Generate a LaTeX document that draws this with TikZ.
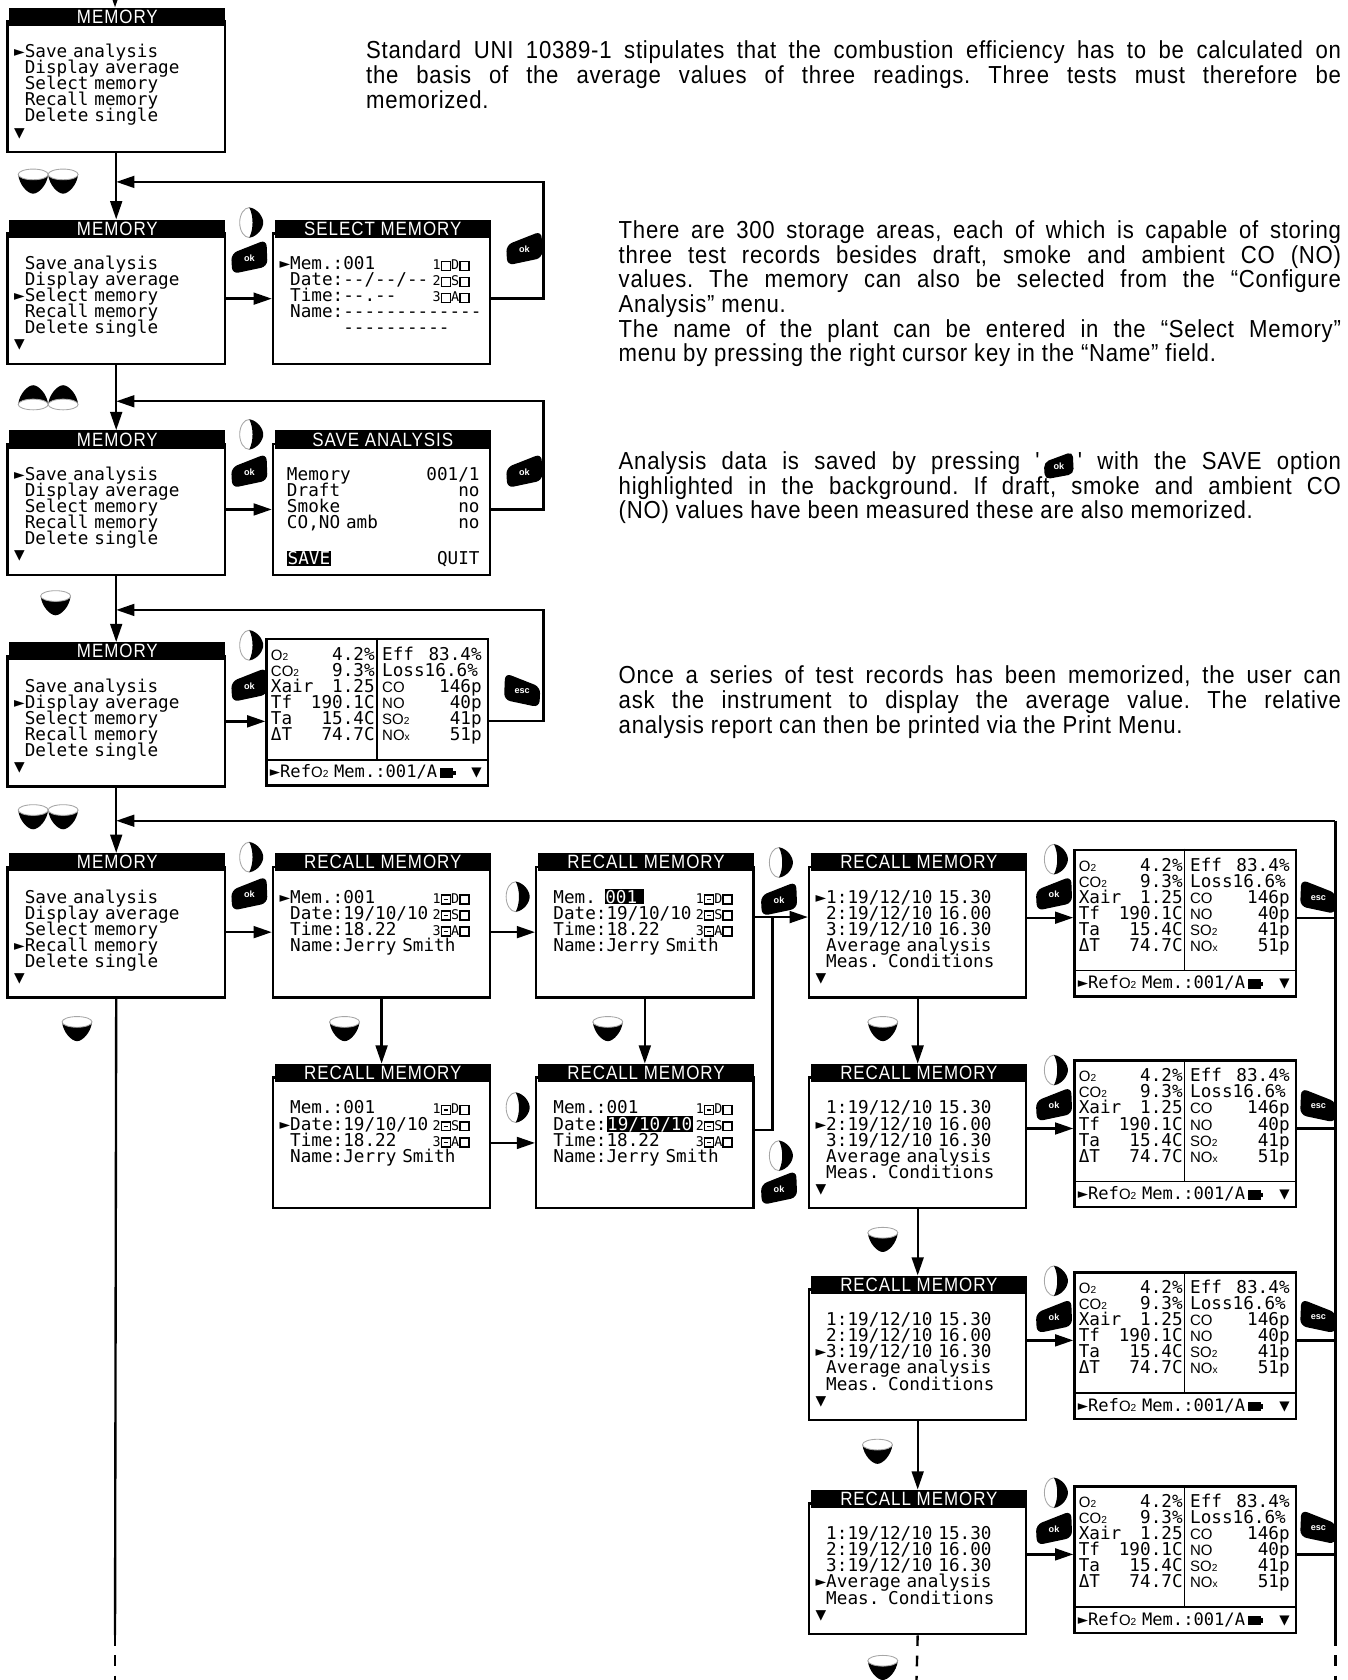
\documentclass[tikz,border=0pt]{standalone}
\usepackage{fontspec}
\setmainfont{Liberation Sans}
\setmonofont{DejaVu Sans Mono}
\newfontfamily\titfam[FakeStretch=0.88,LetterSpace=5]{Liberation Sans}
\newfontfamily\parfam[FakeStretch=0.9,LetterSpace=3]{Liberation Sans}
\usetikzlibrary{arrows.meta}

% fonts
\newcommand{\lcd}{\ttfamily\fontsize{16.5}{15}\selectfont\lineskiplimit=-20pt}
\newcommand{\titf}{\titfam\fontsize{18}{16}\selectfont}
\newcommand{\parf}{\parfam\fontsize{23}{23}\selectfont\lineskiplimit=-20pt\frenchspacing}
\newcommand{\keyf}{\rmfamily\bfseries\fontsize{8.5}{8.5}\selectfont}
\newcommand{\flagf}{\ttfamily\fontsize{12.5}{15}\selectfont\lineskiplimit=-20pt}
\newcommand{\statf}{\ttfamily\fontsize{16}{15}\selectfont}

% screen glyphs
\newcommand{\cursel}{\makebox[0.602em][l]{►}}
\newcommand{\curoff}{\hspace*{0.602em}}
\newcommand{\inv}[1]{{\setlength{\fboxsep}{0.6pt}\colorbox{black}{\textcolor{white}{#1}}}}
\newcommand{\bxe}{{\setlength{\fboxsep}{0pt}\setlength{\fboxrule}{1.4pt}\fbox{\rule{0pt}{7pt}\rule{7pt}{0pt}}}}
\newcommand{\bxd}{{\setlength{\fboxsep}{0pt}\setlength{\fboxrule}{1.4pt}\fbox{\rule{0pt}{7pt}\makebox[7pt]{\rule[2.8pt]{4pt}{1.4pt}}}}}
\newcommand{\batt}{\rule{12pt}{9pt}\rule[2.5pt]{2.5pt}{4pt}}
\newcommand{\gas}[2]{{\rmfamily\fontsize{14}{15}\selectfont #1{\fontsize{9.5}{9}\selectfont #2}}}
\newcommand{\okinl}{\tikz[x=1pt,y=-1pt,baseline=-4pt]{\fill[rounded corners=5pt] (-13,13) -- (-14,-3) -- (13,-13) -- (14,8) -- cycle; \node[text=white, font=\keyf, inner sep=0pt, anchor=center, text width=] (okin) at (0,1) {ok};}}

\tikzset{
  scr/.style={draw, line width=2.2pt, anchor=north west, minimum width=203pt, minimum height=122pt, inner sep=0pt},
  bar/.style={fill=black, text=white, anchor=north west, minimum width=202pt, minimum height=17pt, inner sep=0pt, font=\titf},
  lcdtxt/.style={anchor=base west, inner sep=0pt, text width=190pt, align=left, font=\lcd},
  para/.style={anchor=base west, inner sep=0pt, align=justify, font=\parf},
  ln/.style={line width=2.2pt},
  dashln/.style={line width=2.2pt, dash pattern=on 10pt off 9pt},
  arr/.style={line width=2.2pt, -{Triangle[length=17pt,width=11pt]}},
  dropkey/.pic={
    \fill[black] (-14,0) .. controls (-13,10) and (-5,18) .. (0,18) .. controls (5,18) and (13,10) .. (14,0) -- cycle;
    \filldraw[fill=white, draw=gray!70, line width=0.8pt] (0,0) ellipse [x radius=14pt, y radius=5pt];
  },
  rightkey/.pic={
    \filldraw[fill=white, draw=gray!70, line width=0.8pt] (0,0) ellipse [x radius=9pt, y radius=14pt];
    \fill[black] (0,-14) .. controls (8,-13) and (13,-5) .. (13,0) .. controls (13,5) and (8,13) .. (0,14) .. controls (4,6) and (4,-6) .. (0,-14) -- cycle;
  },
  okkey/.pic={
    \fill[black, rounded corners=6pt] (-16,16) -- (-17,-3) -- (16,-16) -- (17,9) -- cycle;
    \node[text=white, font=\keyf, inner sep=0pt] (-t) at (0,1) {ok};
  },
  esckey/.pic={
    \fill[black, rounded corners=6pt] (16,16) -- (17,-3) -- (-16,-16) -- (-17,9) -- cycle;
    \node[text=white, font=\keyf, inner sep=0pt] (-t) at (0,1) {esc};
  },
}

% menu screen: name, x, top of title bar, title, lines
\newcommand{\scrn}[5]{%
  \node[scr] (#1) at (#2,#3+12) {};
  \node[bar] (#1bar) at (#2+2.5,#3) {#4};
  \node[lcdtxt] (#1txt) at (#2+7,#3+47) {#5};
}
% analysis screen: name, x, top
\newcommand{\datascr}[3]{%
  \node[scr, minimum width=207pt, minimum height=137pt] (#1) at (#2,#3-4) {};
  \draw[line width=1.6pt] (#2+104,#3-4) -- (#2+104,#3+110);
  \draw[line width=1.6pt] (#2,#3+110) -- (#2+207,#3+110);
  \node[lcdtxt, text width=97pt] (#1l) at (#2+5,#3+17) {\gas{O}{2}\hfill 4.2\%\\ \gas{CO}{2}\hfill 9.3\%\\ Xair\hfill 1.25\\ Tf\hfill 190.1C\\ Ta\hfill 15.4C\\ ΔT\hfill 74.7C};
  \node[lcdtxt, text width=93pt] (#1r) at (#2+109,#3+17) {Eff\hfill 83.4\%\\ Loss16.6\%\\ \gas{CO}{}\hfill 146p\\ \gas{NO}{}\hfill 40p\\ \gas{SO}{2}\hfill 41p\\ \gas{NO}{x}\hfill 51p};
  \node[lcdtxt, font=\statf, text width=198pt] (#1s) at (#2+4,#3+127) {►Ref\gas{O}{2} Mem.:001/A\,\batt\hfill▼};
}

\begin{document}
\begin{tikzpicture}[x=1pt,y=-1pt]
    \useasboundingbox (0,0) rectangle (1259,1570);

    % text
    \node[para, text width=911pt] (txt1) at (342,55) {Standard UNI 10389-1 stipulates that the combustion efficiency has to be calculated on\linebreak the basis of the average values of three readings. Three tests must therefore be\linebreak memorized.};
    \node[para, text width=675pt] (txt2) at (578,223) {There are 300 storage areas, each of which is capable of storing\linebreak three test records besides draft, smoke and ambient CO (NO)\linebreak values. The memory can also be selected from the “Configure\linebreak Analysis” menu.\\ The name of the plant can be entered in the “Select Memory”\linebreak menu by pressing the right cursor key in the “Name” field.};
    \node[para, text width=675pt] (txt3) at (578,439) {Analysis data is saved by pressing '\,\okinl\,' with the SAVE option\linebreak highlighted in the background. If draft, smoke and ambient CO\linebreak (NO) values have been measured these are also memorized.};
    \node[para, text width=675pt] (txt4) at (578,639) {Once a series of test records has been memorized, the user can\linebreak ask the instrument to display the average value. The relative\linebreak analysis report can then be printed via the Print Menu.};

    % screens
    \scrn{mem1}{6}{7}{MEMORY}{\cursel Save analysis\\ \curoff Display average\\ \curoff Select memory\\ \curoff Recall memory\\ \curoff Delete single\\ ▼}
    \scrn{mem2}{6}{205}{MEMORY}{\curoff Save analysis\\ \curoff Display average\\ \cursel Select memory\\ \curoff Recall memory\\ \curoff Delete single\\ ▼}
    \scrn{sel}{254}{205}{SELECT MEMORY}{\cursel Mem.:001\\ \curoff Date:--/--/--\\ \curoff Time:--.--\\ \curoff Name:-------------\\ \curoff\hspace*{3.01em}----------}
    \node[lcdtxt, font=\flagf] (selflag) at (404,252) {1\bxe D\bxe\\ 2\bxe S\bxe\\ 3\bxe A\bxe};
    \scrn{mem3}{6}{402}{MEMORY}{\cursel Save analysis\\ \curoff Display average\\ \curoff Select memory\\ \curoff Recall memory\\ \curoff Delete single\\ ▼}
    \scrn{save}{254}{402}{SAVE ANALYSIS}{}
    \node[lcdtxt, text width=180pt] (savetxt) at (268,449) {Memory\hfill 001/1\\ Draft\hfill no\\ Smoke\hfill no\\ CO,NO amb\hfill no};
    \node[lcdtxt, text width=180pt] (savebtn) at (268,528) {\inv{SAVE}\hfill QUIT};
    \scrn{mem4}{6}{600}{MEMORY}{\curoff Save analysis\\ \cursel Display average\\ \curoff Select memory\\ \curoff Recall memory\\ \curoff Delete single\\ ▼}
    \datascr{avg}{248}{600}
    \scrn{mem5}{6}{797}{MEMORY}{\curoff Save analysis\\ \curoff Display average\\ \curoff Select memory\\ \cursel Recall memory\\ \curoff Delete single\\ ▼}
    \scrn{rcl1}{254}{797}{RECALL MEMORY}{\cursel Mem.:001\\ \curoff Date:19/10/10\\ \curoff Time:18.22\\ \curoff Name:Jerry Smith}
    \node[lcdtxt, font=\flagf] (rcl1flag) at (404,844) {1\bxd D\bxe\\ 2\bxd S\bxe\\ 3\bxd A\bxe};
    \scrn{rcl2}{500}{797}{RECALL MEMORY}{\curoff Mem. \inv{001 }\\ \curoff Date:19/10/10\\ \curoff Time:18.22\\ \curoff Name:Jerry Smith}
    \node[lcdtxt, font=\flagf] (rcl2flag) at (650,844) {1\bxd D\bxe\\ 2\bxd S\bxe\\ 3\bxd A\bxe};
    \scrn{lst1}{755}{797}{RECALL MEMORY}{\cursel 1:19/12/10 15.30\\ \curoff 2:19/12/10 16.00\\ \curoff 3:19/12/10 16.30\\ \curoff Average analysis\\ \curoff Meas. Conditions\\ ▼}
    \datascr{res1}{1003}{797}
    \scrn{rcl3}{254}{994}{RECALL MEMORY}{\curoff Mem.:001\\ \cursel Date:19/10/10\\ \curoff Time:18.22\\ \curoff Name:Jerry Smith}
    \node[lcdtxt, font=\flagf] (rcl3flag) at (404,1041) {1\bxd D\bxe\\ 2\bxd S\bxe\\ 3\bxd A\bxe};
    \scrn{rcl4}{500}{994}{RECALL MEMORY}{\curoff Mem.:001\\ \curoff Date:\inv{19/10/10}\\ \curoff Time:18.22\\ \curoff Name:Jerry Smith}
    \node[lcdtxt, font=\flagf] (rcl4flag) at (650,1041) {1\bxd D\bxe\\ 2\bxd S\bxe\\ 3\bxd A\bxe};
    \scrn{lst2}{755}{994}{RECALL MEMORY}{\curoff 1:19/12/10 15.30\\ \cursel 2:19/12/10 16.00\\ \curoff 3:19/12/10 16.30\\ \curoff Average analysis\\ \curoff Meas. Conditions\\ ▼}
    \datascr{res2}{1003}{994}
    \scrn{lst3}{755}{1192}{RECALL MEMORY}{\curoff 1:19/12/10 15.30\\ \curoff 2:19/12/10 16.00\\ \cursel 3:19/12/10 16.30\\ \curoff Average analysis\\ \curoff Meas. Conditions\\ ▼}
    \datascr{res3}{1003}{1192}
    \scrn{lst4}{755}{1392}{RECALL MEMORY}{\curoff 1:19/12/10 15.30\\ \curoff 2:19/12/10 16.00\\ \curoff 3:19/12/10 16.30\\ \cursel Average analysis\\ \curoff Meas. Conditions\\ ▼}
    \datascr{res4}{1003}{1392}

    % main column
    \coordinate (entry) at (107.5,0);
    \coordinate (leftdash) at (107.5,1528);
    \coordinate (leftend) at (107.5,1570);
    \draw[arr] (entry) -- (entry |- mem1bar.north);
    \draw[arr] (mem1.south) -- (mem1.south |- mem2bar.north);
    \draw[arr] (mem2.south) -- (mem2.south |- mem3bar.north);
    \draw[arr] (mem3.south) -- (mem3.south |- mem4bar.north);
    \draw[arr] (mem4.south) -- (mem4.south |- mem5bar.north);
    \draw[ln] (mem5.south) -- (leftdash);
    \draw[dashln] (leftdash) -- (leftend);

    % across
    \draw[arr] (mem2.east) -- (sel.west);
    \draw[arr] (mem3.east) -- (save.west);
    \draw[arr] (mem4.east) -- (mem4.east -| avg.west);
    \draw[arr] (mem5.east) -- (rcl1.west);
    \draw[arr] (rcl1.east) -- (rcl2.west);
    \draw[arr] (rcl3.east) -- (rcl4.west);
    \coordinate (join) at (722,857);
    \draw[arr] (rcl2.east |- join) -- (lst1.west |- join);
    \draw[ln] ([yshift=12pt]rcl4.east) -| (join);
    \draw[arr] ([yshift=5pt]res1.west -| lst1.east) -- ([yshift=5pt]res1.west);
    \draw[arr] ([yshift=5pt]res2.west -| lst2.east) -- ([yshift=5pt]res2.west);
    \draw[arr] ([yshift=5pt]res3.west -| lst3.east) -- ([yshift=5pt]res3.west);
    \draw[arr] ([yshift=5pt]res4.west -| lst4.east) -- ([yshift=5pt]res4.west);

    % down
    \draw[arr] (rcl1.south) -- (rcl1.south |- rcl3bar.north);
    \draw[arr] (rcl2.south) -- (rcl2.south |- rcl4bar.north);
    \draw[arr] (lst1.south) -- (lst1.south |- lst2bar.north);
    \draw[arr] (lst2.south) -- (lst2.south |- lst3bar.north);
    \draw[arr] (lst3.south) -- (lst3.south |- lst4bar.north);
    \coordinate (lstend) at (856.5,1570);
    \draw[dashln] (lst4.south) -- (lstend);

    % back loops
    \coordinate (loop1) at (508,170);
    \coordinate (loop2) at (508,375);
    \coordinate (loop3) at (508,570);
    \coordinate (loop4) at (1248,767);
    \coordinate (rightdash) at (1248,1528);
    \coordinate (rightend) at (1248,1570);
    \draw[arr] (sel.east) -| (loop1) -- (loop1 -| mem1.south);
    \draw[arr] (save.east) -| (loop2) -- (loop2 -| mem1.south);
    \draw[arr] ([yshift=-8pt]avg.east) -| (loop3) -- (loop3 -| mem1.south);
    \draw[arr] (loop4) -- (loop4 -| mem1.south);
    \draw[ln] (loop4) -- (rightdash);
    \draw[dashln] (rightdash) -- (rightend);
    \draw[ln] ([yshift=5pt]res1.east) -- ([yshift=5pt]res1.east -| loop4);
    \draw[ln] ([yshift=5pt]res2.east) -- ([yshift=5pt]res2.east -| loop4);
    \draw[ln] ([yshift=5pt]res3.east) -- ([yshift=5pt]res3.east -| loop4);
    \draw[ln] ([yshift=5pt]res4.east) -- ([yshift=5pt]res4.east -| loop4);

    % keys
    \pic at (31,163) {dropkey};
    \pic at (59,163) {dropkey};
    \pic at (233,208) {rightkey};
    \pic at (233,240) {okkey};
    \pic at (490,232) {okkey};
    \pic[yscale=-1] at (31,378) {dropkey};
    \pic[yscale=-1] at (59,378) {dropkey};
    \pic at (233,406) {rightkey};
    \pic at (233,440) {okkey};
    \pic at (490,440) {okkey};
    \pic at (52,557) {dropkey};
    \pic at (233,603) {rightkey};
    \pic at (233,640) {okkey};
    \pic at (488,645) {esckey};
    \pic at (31,757) {dropkey};
    \pic at (59,757) {dropkey};
    \pic at (233,801) {rightkey};
    \pic at (233,835) {okkey};
    \pic at (482,838) {rightkey};
    \pic at (728,806) {rightkey};
    \pic at (728,840) {okkey};
    \pic at (985,803) {rightkey};
    \pic at (985,835) {okkey};
    \pic at (1232,838) {esckey};
    \pic at (72,955) {dropkey};
    \pic at (322,955) {dropkey};
    \pic at (568,955) {dropkey};
    \pic at (825,955) {dropkey};
    \pic at (482,1035) {rightkey};
    \pic at (728,1080) {rightkey};
    \pic at (728,1110) {okkey};
    \pic at (985,1000) {rightkey};
    \pic at (985,1032) {okkey};
    \pic at (1232,1033) {esckey};
    \pic at (825,1152) {dropkey};
    \pic at (985,1197) {rightkey};
    \pic at (985,1230) {okkey};
    \pic at (1232,1230) {esckey};
    \pic at (820,1350) {dropkey};
    \pic at (985,1395) {rightkey};
    \pic at (985,1428) {okkey};
    \pic at (1232,1427) {esckey};
    \pic at (825,1552) {dropkey};
\end{tikzpicture}
\end{document}
